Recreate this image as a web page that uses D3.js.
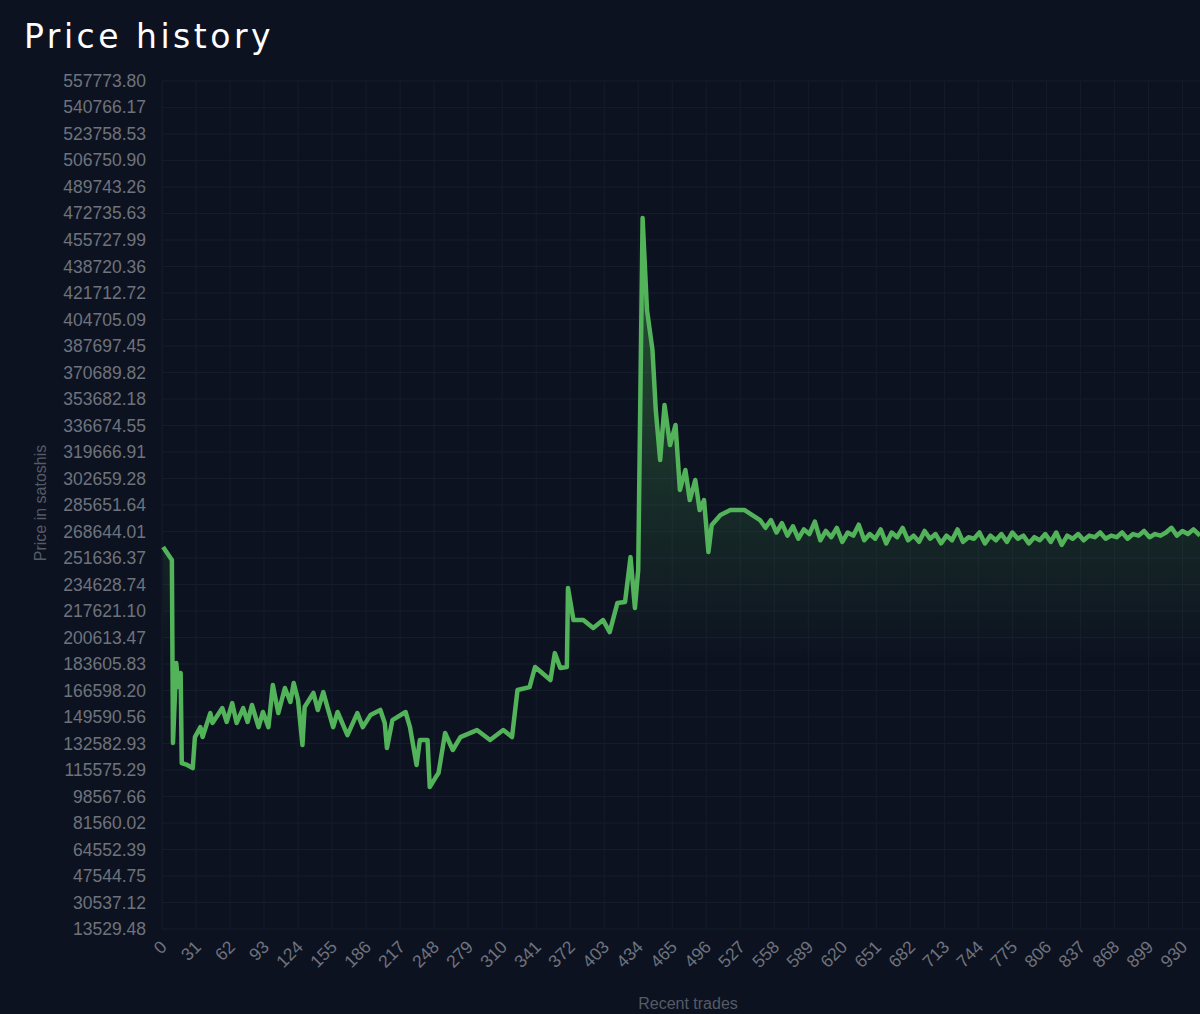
<!DOCTYPE html>
<html>
<head>
<meta charset="utf-8">
<script src="https://cdn.jsdelivr.net/npm/d3@7"></script>
<style>
body{margin:0;background:#0d1220;}
</style>
</head>
<body>
<svg id="chart" width="1200" height="1014"></svg>
<script>
var yTicks = ["13529.48","30537.12","47544.75","64552.39","81560.02","98567.66","115575.29","132582.93","149590.56","166598.20","183605.83","200613.47","217621.10","234628.74","251636.37","268644.01","285651.64","302659.28","319666.91","336674.55","353682.18","370689.82","387697.45","404705.09","421712.72","438720.36","455727.99","472735.63","489743.26","506750.90","523758.53","540766.17","557773.80"]
var xTicks = [0,31,62,93,124,155,186,217,248,279,310,341,372,403,434,465,496,527,558,589,620,651,682,713,744,775,806,837,868,899,930]

// trade index and price (thousands of satoshis)
var tradeIdx = [1,9,10,13,15,17,18,23,28,30,35,37,44,46,55,59,64,68,74,78,82,88,92,97,101,106,112,117,120,124,128,130,138,142,147,151,156,160,169,178,183,190,199,203,205,210,222,226,232,235,242,244,249,252,258,265,272,287,299,311,319,324,335,340,354,358,363,369,370,375,384,393,402,408,415,422,427,431,434,438,442,447,450,454,458,463,468,472,477,481,486,490,494,498,501,509,518,531,545,
550,555,560,565,570,575,580,585,590,595,600,605,610,615,620,625,630,635,640,645,650,655,660,665,670,675,680,685,690,695,700,705,710,715,720,725,730,735,740,745,750,755,760,765,770,775,780,785,790,795,800,805,810,815,820,825,830,835,840,845,850,855,860,865,870,875,880,885,890,895,900,905,910,915,920,925,930,935,940,946]
var priceK = [258.7,250.3,132.9,184.2,168.8,177.8,120.0,118.8,116.8,136.7,143.1,136.7,152.1,145.7,155.3,146.4,158.5,145.7,155.3,146.4,157.3,143.1,152.8,143.1,170.1,152.1,168.2,159.2,171.4,160.5,131.6,156.0,165.0,154.1,165.6,155.3,143.1,152.8,138.0,152.1,143.1,150.8,154.1,145.7,129.7,147.6,152.8,143.1,118.8,134.8,134.8,104.6,110.4,113.6,139.3,128.4,136.7,141.2,134.8,141.2,136.7,166.9,168.8,181.7,173.3,190.6,181.0,181.7,232.4,211.8,211.8,206.7,211.8,204.1,222.7,223.4,252.2,219.5,243.9,469.8,410.8,385.1,346.6,314.5,349.8,324.1,337.0,295.3,308.1,288.8,301.7,282.4,288.8,255.5,272.8,279.2,282.4,282.4,276.0,
271,276,268,274,266,272,264,270,267,275,263,269,265,271,262,268,266,273,263,267,264,270,261,268,265,271,263,266,262,269,264,267,261,266,263,270,262,265,264,268,261,266,263,267,262,268,264,266,261,265,263,267,262,268,260,266,264,267,263,266,265,268,264,266,265,268,264,267,266,269,265,267,266,268,271,266,269,267,270,266]

var data = tradeIdx.map(function(d,i){return {i:d, v:priceK[i]*1000}})

var svg = d3.select("#chart")
var x = d3.scaleLinear().domain([0,946]).range([162,1200])
var y = d3.scaleLinear().domain([+yTicks[0], +yTicks[yTicks.length-1]]).range([929,81])

// grid
svg.append("g").selectAll("line").data(yTicks).enter().append("line")
    .attr("x1",162).attr("x2",1200)
    .attr("y1",function(d){return y(+d)}).attr("y2",function(d){return y(+d)})
    .attr("stroke","#151c2b").attr("stroke-width",1)
svg.append("g").selectAll("line").data(xTicks).enter().append("line")
    .attr("y1",81).attr("y2",929)
    .attr("x1",function(d){return x(d)}).attr("x2",function(d){return x(d)})
    .attr("stroke","#151c2b").attr("stroke-width",1)

// y labels
svg.append("g").selectAll("text").data(yTicks).enter().append("text")
    .attr("x",146).attr("y",function(d){return y(+d)+6})
    .attr("text-anchor","end").attr("fill","#6e737d")
    .attr("font-family","Liberation Sans, Arial, sans-serif").attr("font-size",17.5)
    .text(function(d){return d})

// x labels
svg.append("g").selectAll("text").data(xTicks).enter().append("text")
    .attr("transform",function(d){return "translate("+(x(d)+6)+",948) rotate(-45)"})
    .attr("text-anchor","end").attr("fill","#6e737d")
    .attr("font-family","Liberation Sans, Arial, sans-serif").attr("font-size",17.5)
    .text(function(d){return d})

svg.append("text").attr("x",688).attr("y",1009).attr("text-anchor","middle")
    .attr("fill","#555b66").attr("font-family","Liberation Sans, Arial, sans-serif").attr("font-size",16)
    .text("Recent trades")
svg.append("text").attr("transform","translate(46,503) rotate(-90)").attr("text-anchor","middle")
    .attr("fill","#555b66").attr("font-family","Liberation Sans, Arial, sans-serif").attr("font-size",16)
    .text("Price in satoshis")

svg.append("text").attr("x",24).attr("y",48).attr("fill","#ffffff")
    .attr("font-family","DejaVu Sans, sans-serif").attr("font-size",33).attr("letter-spacing",3.5)
    .text("Price history")

// gradient fill
var grad = svg.append("defs").append("linearGradient").attr("id","fade")
    .attr("gradientUnits","userSpaceOnUse").attr("x1",0).attr("x2",0).attr("y1",220).attr("y2",660)
grad.append("stop").attr("offset","0%").attr("stop-color","#4caf50").attr("stop-opacity",0.45)
grad.append("stop").attr("offset","100%").attr("stop-color","#4caf50").attr("stop-opacity",0)

svg.append("path").datum(data)
    .attr("fill","url(#fade)")
    .attr("d",d3.area().x(function(d){return x(d.i)}).y0(929).y1(function(d){return y(d.v)}))

svg.append("path").datum(data)
    .attr("fill","none").attr("stroke","#52b35a").attr("stroke-width",4.5).attr("stroke-linejoin","round")
    .attr("d",d3.line().x(function(d){return x(d.i)}).y(function(d){return y(d.v)}))
</script>
</body>
</html>
